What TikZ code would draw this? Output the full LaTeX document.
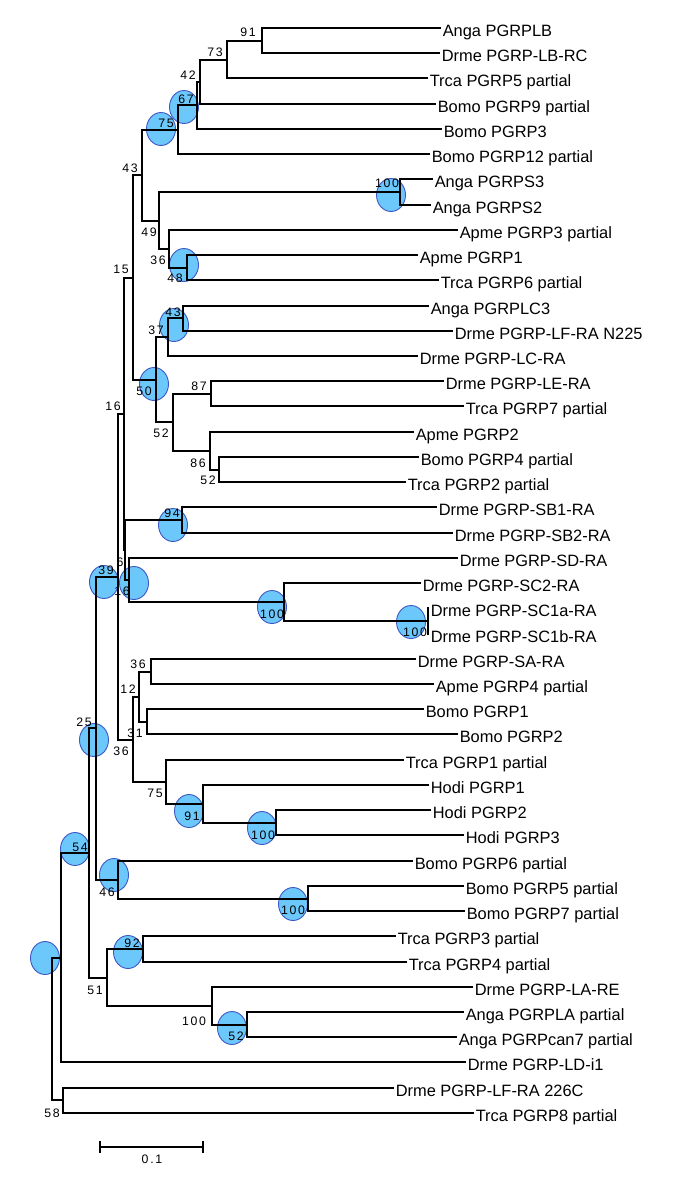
\documentclass[tikz,border=0pt]{standalone}
\usepackage{fontspec}
\setmainfont{Liberation Sans}
\newfontfamily\bootfont[LetterSpace=14]{Liberation Sans}
\usetikzlibrary{shapes.geometric}
\definecolor{bubblefill}{RGB}{108,199,250}
\definecolor{bubbleline}{RGB}{62,88,196}
\tikzset{
  leaf/.style={anchor=west,inner xsep=2.6pt,inner ysep=0pt,text height=17pt,text depth=0pt,
    font=\fontsize{16.4}{18}\selectfont},
  boot/.style={inner sep=0pt,text height=8.8pt,text depth=0pt,font=\bootfont\fontsize{12.3}{14}\selectfont},
  bubble/.style={ellipse,fill=bubblefill,draw=bubbleline,line width=0.9pt,
    minimum width=29pt,minimum height=33pt,inner sep=0pt},
  branch/.style={line width=1.85pt,line cap=rect},
}
\begin{document}
\begin{tikzpicture}[x=1pt,y=-1pt]
    \useasboundingbox (0,0) rectangle (685,1181);
    % --- nodi interni ---
    \coordinate (n91) at (262,41);     \coordinate (n73) at (227,60);
    \coordinate (n42) at (200,82);     \coordinate (n67) at (197,105);
    \coordinate (n75) at (178,130);    \coordinate (n100a) at (400,192);
    \coordinate (n48) at (187,268);    \coordinate (n36a) at (169,249);
    \coordinate (n49) at (159,221);    \coordinate (n43a) at (142,175);
    \coordinate (n43b) at (183,318);   \coordinate (n37) at (168,337);
    \coordinate (n87) at (211,394);    \coordinate (n52b) at (219,470);
    \coordinate (n86) at (210,451);    \coordinate (n52a) at (173,422);
    \coordinate (n50) at (156,380);    \coordinate (n15) at (133,278);
    \coordinate (n94) at (182,520);    \coordinate (n100c) at (428,621);
    \coordinate (n100b) at (284,602);  \coordinate (n16b) at (129,580);
    \coordinate (n6) at (125,550);     \coordinate (n16a) at (124,414);
    \coordinate (n36c) at (151,672);   \coordinate (n31) at (147,722);
    \coordinate (n12) at (139,697);    \coordinate (n100d) at (276,823);
    \coordinate (n91b) at (203,804);   \coordinate (n75b) at (166,782);
    \coordinate (n36b) at (133,740);   \coordinate (n39) at (118,577);
    \coordinate (n100e) at (308,899);  \coordinate (n46) at (118,880);
    \coordinate (n25) at (96,728);     \coordinate (n92) at (143,949);
    \coordinate (n52c) at (247,1025);  \coordinate (n100f) at (212,1006);
    \coordinate (n51) at (107,978);    \coordinate (n54) at (89,853);
    \coordinate (n0a) at (61,958);     \coordinate (n58) at (63,1100);
    \coordinate (nroot) at (52,1029);
    % --- cerchi (sotto i rami) ---
    \node[bubble] (c67) at (184,107) {};    \node[bubble] (c75) at (161,129) {};
    \node[bubble] (c100a) at (391,195) {};  \node[bubble] (c48) at (184,265) {};
    \node[bubble] (c43b) at (174,325) {};   \node[bubble] (c50) at (154,384) {};
    \node[bubble] (c94) at (173,525) {};    \node[bubble] (c39) at (104,582) {};
    \node[bubble] (c16b) at (134,583) {};   \node[bubble] (c100b) at (272,607) {};
    \node[bubble] (c100c) at (411,622) {};  \node[bubble] (c25) at (94,740) {};
    \node[bubble] (c91b) at (189,811) {};   \node[bubble] (c100d) at (262,828) {};
    \node[bubble] (c54) at (75,849) {};     \node[bubble] (c46) at (114,875) {};
    \node[bubble] (c100e) at (293,904) {};  \node[bubble] (c92) at (128,952) {};
    \node[bubble] (c52c) at (232,1028) {};  \node[bubble] (croot) at (45,958) {};
    % --- foglie ---
    \node[leaf] (l1) at (440,28) {Anga PGRPLB};
    \node[leaf] (l2) at (439,53) {Drme PGRP-LB-RC};
    \node[leaf] (l3) at (427,78) {Trca PGRP5 partial};
    \node[leaf] (l4) at (435,104) {Bomo PGRP9 partial};
    \node[leaf] (l5) at (441,129) {Bomo PGRP3};
    \node[leaf] (l6) at (429,154) {Bomo PGRP12 partial};
    \node[leaf] (l7) at (432,179) {Anga PGRPS3};
    \node[leaf] (l8) at (430,205) {Anga PGRPS2};
    \node[leaf] (l9) at (457,230) {Apme PGRP3 partial};
    \node[leaf] (l10) at (417,255) {Apme PGRP1};
    \node[leaf] (l11) at (438,280) {Trca PGRP6 partial};
    \node[leaf] (l12) at (428,306) {Anga PGRPLC3};
    \node[leaf] (l13) at (452,331) {Drme PGRP-LF-RA N225};
    \node[leaf] (l14) at (417,356) {Drme PGRP-LC-RA};
    \node[leaf] (l15) at (443,381) {Drme PGRP-LE-RA};
    \node[leaf] (l16) at (463,406) {Trca PGRP7 partial};
    \node[leaf] (l17) at (413,432) {Apme PGRP2};
    \node[leaf] (l18) at (418,457) {Bomo PGRP4 partial};
    \node[leaf] (l19) at (405,482) {Trca PGRP2 partial};
    \node[leaf] (l20) at (436,507) {Drme PGRP-SB1-RA};
    \node[leaf] (l21) at (452,533) {Drme PGRP-SB2-RA};
    \node[leaf] (l22) at (457,558) {Drme PGRP-SD-RA};
    \node[leaf] (l23) at (420,583) {Drme PGRP-SC2-RA};
    \node[leaf] (l24) at (428,608) {Drme PGRP-SC1a-RA};
    \node[leaf] (l25) at (428,634) {Drme PGRP-SC1b-RA};
    \node[leaf] (l26) at (415,659) {Drme PGRP-SA-RA};
    \node[leaf] (l27) at (433,684) {Apme PGRP4 partial};
    \node[leaf] (l28) at (423,709) {Bomo PGRP1};
    \node[leaf] (l29) at (457,734) {Bomo PGRP2};
    \node[leaf] (l30) at (403,760) {Trca PGRP1 partial};
    \node[leaf] (l31) at (428,785) {Hodi PGRP1};
    \node[leaf] (l32) at (430,810) {Hodi PGRP2};
    \node[leaf] (l33) at (463,835) {Hodi PGRP3};
    \node[leaf] (l34) at (412,861) {Bomo PGRP6 partial};
    \node[leaf] (l35) at (463,886) {Bomo PGRP5 partial};
    \node[leaf] (l36) at (464,911) {Bomo PGRP7 partial};
    \node[leaf] (l37) at (395,936) {Trca PGRP3 partial};
    \node[leaf] (l38) at (406,962) {Trca PGRP4 partial};
    \node[leaf] (l39) at (472,987) {Drme PGRP-LA-RE};
    \node[leaf] (l40) at (463,1012) {Anga PGRPLA partial};
    \node[leaf] (l41) at (456,1037) {Anga PGRPcan7 partial};
    \node[leaf] (l42) at (465,1062) {Drme PGRP-LD-i1};
    \node[leaf] (l43) at (393,1088) {Drme PGRP-LF-RA 226C};
    \node[leaf] (l44) at (473,1113) {Trca PGRP8 partial};
    % --- rami ---
    \draw[branch] (n91) |- (l1.west)  (n91) |- (l2.west);
    \draw[branch] (n73) |- (n91)      (n73) |- (l3.west);
    \draw[branch] (n42) |- (n73)      (n42) |- (l4.west);
    \draw[branch] (n67) |- (n42)      (n67) |- (l5.west);
    \draw[branch] (n75) |- (n67)      (n75) |- (l6.west);
    \draw[branch] (n100a) |- (l7.west) (n100a) |- (l8.west);
    \draw[branch] (n48) |- (l10.west) (n48) |- (l11.west);
    \draw[branch] (n36a) |- (l9.west) (n36a) |- (n48);
    \draw[branch] (n49) |- (n100a)    (n49) |- (n36a);
    \draw[branch] (n43a) |- (n75)     (n43a) |- (n49);
    \draw[branch] (n43b) |- (l12.west) (n43b) |- (l13.west);
    \draw[branch] (n37) |- (n43b)     (n37) |- (l14.west);
    \draw[branch] (n87) |- (l15.west) (n87) |- (l16.west);
    \draw[branch] (n52b) |- (l18.west) (n52b) |- (l19.west);
    \draw[branch] (n86) |- (l17.west) (n86) |- (n52b);
    \draw[branch] (n52a) |- (n87)     (n52a) |- (n86);
    \draw[branch] (n50) |- (n37)      (n50) |- (n52a);
    \draw[branch] (n15) |- (n43a)     (n15) |- (n50);
    \draw[branch] (n94) |- (l20.west) (n94) |- (l21.west);
    \draw[branch] (n100c) |- (l24.west) (n100c) |- (l25.west);
    \draw[branch] (n100b) |- (l23.west) (n100b) |- (n100c);
    \draw[branch] (n16b) |- (l22.west) (n16b) |- (n100b);
    \draw[branch] (n6) |- (n94)       (n6) |- (n16b);
    \draw[branch] (n16a) |- (n15)     (n16a) |- (n6);
    \draw[branch] (n36c) |- (l26.west) (n36c) |- (l27.west);
    \draw[branch] (n31) |- (l28.west) (n31) |- (l29.west);
    \draw[branch] (n12) |- (n36c)     (n12) |- (n31);
    \draw[branch] (n100d) |- (l32.west) (n100d) |- (l33.west);
    \draw[branch] (n91b) |- (l31.west) (n91b) |- (n100d);
    \draw[branch] (n75b) |- (l30.west) (n75b) |- (n91b);
    \draw[branch] (n36b) |- (n12)     (n36b) |- (n75b);
    \draw[branch] (n39) |- (n16a)     (n39) |- (n36b);
    \draw[branch] (n100e) |- (l35.west) (n100e) |- (l36.west);
    \draw[branch] (n46) |- (l34.west) (n46) |- (n100e);
    \draw[branch] (n25) |- (n39)      (n25) |- (n46);
    \draw[branch] (n92) |- (l37.west) (n92) |- (l38.west);
    \draw[branch] (n52c) |- (l40.west) (n52c) |- (l41.west);
    \draw[branch] (n100f) |- (l39.west) (n100f) |- (n52c);
    \draw[branch] (n51) |- (n92)      (n51) |- (n100f);
    \draw[branch] (n54) |- (n25)      (n54) |- (n51);
    \draw[branch] (n0a) |- (n54)      (n0a) |- (l42.west);
    \draw[branch] (n58) |- (l43.west) (n58) |- (l44.west);
    \draw[branch] (nroot) |- (n0a)    (nroot) |- (n58);
    % --- valori di bootstrap ---
    \node[boot] (b91) at (248,32) {91};     \node[boot] (b73) at (215,52) {73};
    \node[boot] (b42) at (188,75) {42};     \node[boot] (b67) at (186,99) {67};
    \node[boot] (b75) at (166,123) {75};    \node[boot] (b43a) at (130,168) {43};
    \node[boot] (b100a) at (387,183) {100}; \node[boot] (b49) at (149,232) {49};
    \node[boot] (b36a) at (158,260) {36};   \node[boot] (b48) at (175,278) {48};
    \node[boot] (b15) at (121,269) {15};    \node[boot] (b43b) at (173,312) {43};
    \node[boot] (b37) at (156,330) {37};    \node[boot] (b50) at (144,391) {50};
    \node[boot] (b87) at (199,386) {87};    \node[boot] (b52a) at (161,433) {52};
    \node[boot] (b86) at (198,463) {86};    \node[boot] (b52b) at (208,480) {52};
    \node[boot] (b16a) at (113,406) {16};   \node[boot] (b94) at (172,513) {94};
    \node[boot] (b6) at (120,562) {6};      \node[boot] (b39) at (106,570) {39};
    \node[boot] (b16b) at (122,591) {16};   \node[boot] (b100b) at (272,614) {100};
    \node[boot] (b100c) at (415,632) {100}; \node[boot] (b36c) at (138,664) {36};
    \node[boot] (b12) at (128,689) {12};    \node[boot] (b31) at (135,733) {31};
    \node[boot] (b36b) at (121,751) {36};   \node[boot] (b25) at (84,722) {25};
    \node[boot] (b75b) at (155,793) {75};   \node[boot] (b91b) at (192,816) {91};
    \node[boot] (b100d) at (263,835) {100}; \node[boot] (b54) at (80,847) {54};
    \node[boot] (b46) at (107,892) {46};    \node[boot] (b100e) at (293,910) {100};
    \node[boot] (b92) at (132,943) {92};    \node[boot] (b51) at (95,990) {51};
    \node[boot] (b100f) at (194,1021) {100};\node[boot] (b52c) at (236,1036) {52};
    \node[boot] (b58) at (52,1113) {58};
    % --- scala ---
    \coordinate (sb1) at (100,1147);
    \coordinate (sb2) at (203,1147);
    \draw[line width=1.5pt] (sb1) -- (sb2)  (sb1) ++(0,-6) -- ++(0,12)  (sb2) ++(0,-6) -- ++(0,12);
    \node[boot] (sblabel) at (152,1159) {0.1};
\end{tikzpicture}
\end{document}
